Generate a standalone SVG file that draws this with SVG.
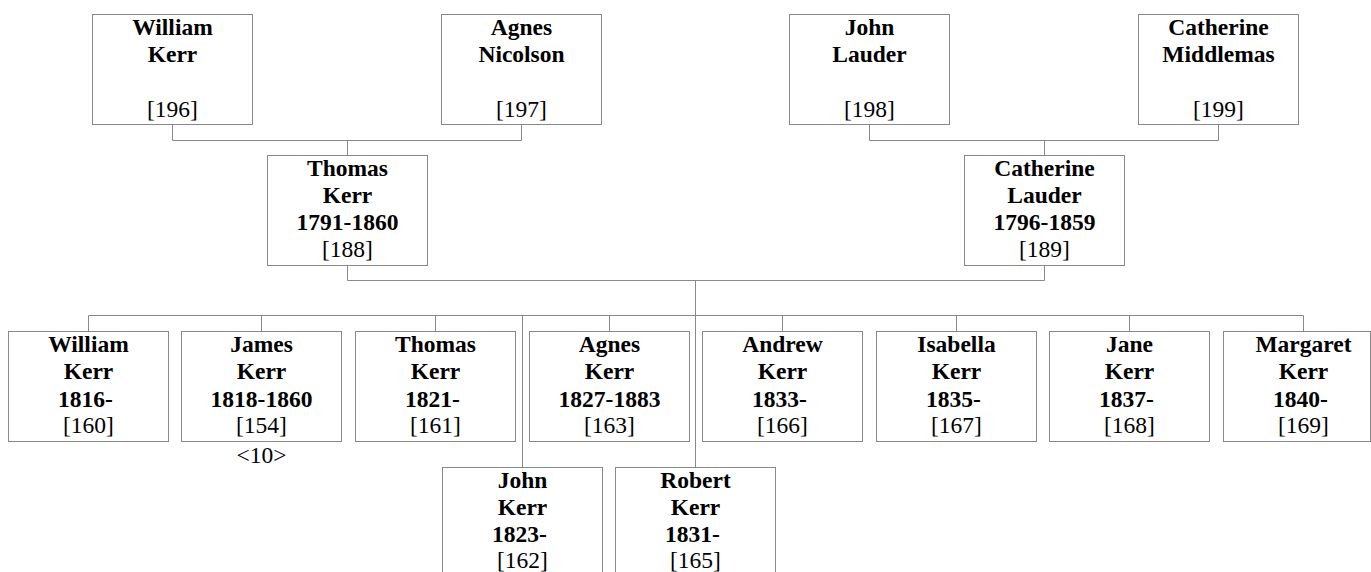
<svg xmlns="http://www.w3.org/2000/svg" width="1371" height="572" viewBox="0 0 1371 572">
<style>
.box{fill:#fff;stroke:#888;stroke-width:1}
.ln{fill:none;stroke:#888;stroke-width:1}
text{font-family:'Liberation Serif','DejaVu Serif',serif;font-size:23.5px;fill:#000;text-anchor:middle}
.n{font-weight:bold}
</style>
<rect width="1371" height="572" fill="#fff"/>
<g id="connectors">
<path class="ln" d="M172.5 124.5V140.5H521.5V124.5M347.5 140.5V155.5"/>
<path class="ln" d="M869.5 124.5V140.5H1218.5V124.5M1044.5 140.5V155.5"/>
<path class="ln" d="M347.5 265.5V280.5H1044.5V265.5M695.5 280.5V315.5"/>
<path class="ln" d="M88.5 331.5V315.5H1303.5V331.5M261.5 315.5V331.5M435.5 315.5V331.5M609.5 315.5V331.5M782.5 315.5V331.5M956.5 315.5V331.5M1129.5 315.5V331.5M522.5 315.5V467.5M695.5 315.5V467.5"/>
</g>
<g id="n196"><rect class="box" x="92.5" y="14.5" width="160" height="110"/><text class="n" x="172.5" y="35">William</text><text class="n" x="172.5" y="62">Kerr</text><text x="172.5" y="117">[196]</text></g>
<g id="n197"><rect class="box" x="441.5" y="14.5" width="160" height="110"/><text class="n" x="521.5" y="35">Agnes</text><text class="n" x="521.5" y="62">Nicolson</text><text x="521.5" y="117">[197]</text></g>
<g id="n198"><rect class="box" x="789.5" y="14.5" width="160" height="110"/><text class="n" x="869.5" y="35">John</text><text class="n" x="869.5" y="62">Lauder</text><text x="869.5" y="117">[198]</text></g>
<g id="n199"><rect class="box" x="1138.5" y="14.5" width="160" height="110"/><text class="n" x="1218.5" y="35">Catherine</text><text class="n" x="1218.5" y="62">Middlemas</text><text x="1218.5" y="117">[199]</text></g>
<g id="n188"><rect class="box" x="267.5" y="155.5" width="160" height="110"/><text class="n" x="347.5" y="176">Thomas</text><text class="n" x="347.5" y="203">Kerr</text><text class="n" x="347.5" y="230">1791-1860</text><text x="347.5" y="257">[188]</text></g>
<g id="n189"><rect class="box" x="964.5" y="155.5" width="160" height="110"/><text class="n" x="1044.5" y="176">Catherine</text><text class="n" x="1044.5" y="203">Lauder</text><text class="n" x="1044.5" y="230">1796-1859</text><text x="1044.5" y="257">[189]</text></g>
<g id="n160"><rect class="box" x="8.5" y="331.5" width="160" height="110"/><text class="n" x="88.5" y="352">William</text><text class="n" x="88.5" y="379">Kerr</text><text class="n" x="85.5" y="406.5">1816-</text><text x="88.5" y="432.5">[160]</text></g>
<g id="n154"><rect class="box" x="181.5" y="331.5" width="160" height="110"/><text class="n" x="261.5" y="352">James</text><text class="n" x="261.5" y="379">Kerr</text><text class="n" x="261.5" y="406.5">1818-1860</text><text x="261.5" y="432.5">[154]</text><text x="261.5" y="462.5">&lt;10&gt;</text></g>
<g id="n161"><rect class="box" x="355.5" y="331.5" width="160" height="110"/><text class="n" x="435.5" y="352">Thomas</text><text class="n" x="435.5" y="379">Kerr</text><text class="n" x="432.5" y="406.5">1821-</text><text x="435.5" y="432.5">[161]</text></g>
<g id="n163"><rect class="box" x="529.5" y="331.5" width="160" height="110"/><text class="n" x="609.5" y="352">Agnes</text><text class="n" x="609.5" y="379">Kerr</text><text class="n" x="609.5" y="406.5">1827-1883</text><text x="609.5" y="432.5">[163]</text></g>
<g id="n166"><rect class="box" x="702.5" y="331.5" width="160" height="110"/><text class="n" x="782.5" y="352">Andrew</text><text class="n" x="782.5" y="379">Kerr</text><text class="n" x="779.5" y="406.5">1833-</text><text x="782.5" y="432.5">[166]</text></g>
<g id="n167"><rect class="box" x="876.5" y="331.5" width="160" height="110"/><text class="n" x="956.5" y="352">Isabella</text><text class="n" x="956.5" y="379">Kerr</text><text class="n" x="953.5" y="406.5">1835-</text><text x="956.5" y="432.5">[167]</text></g>
<g id="n168"><rect class="box" x="1049.5" y="331.5" width="160" height="110"/><text class="n" x="1129.5" y="352">Jane</text><text class="n" x="1129.5" y="379">Kerr</text><text class="n" x="1126.5" y="406.5">1837-</text><text x="1129.5" y="432.5">[168]</text></g>
<g id="n169"><rect class="box" x="1223.5" y="331.5" width="147" height="110"/><text class="n" x="1303.5" y="352">Margaret</text><text class="n" x="1303.5" y="379">Kerr</text><text class="n" x="1300.5" y="406.5">1840-</text><text x="1303.5" y="432.5">[169]</text></g>
<g id="n162"><rect class="box" x="442.5" y="467.5" width="160" height="110"/><text class="n" x="522.5" y="488">John</text><text class="n" x="522.5" y="515">Kerr</text><text class="n" x="519.5" y="542">1823-</text><text x="522.5" y="568">[162]</text></g>
<g id="n165"><rect class="box" x="615.5" y="467.5" width="160" height="110"/><text class="n" x="695.5" y="488">Robert</text><text class="n" x="695.5" y="515">Kerr</text><text class="n" x="692.5" y="542">1831-</text><text x="695.5" y="568">[165]</text></g>
</svg>
